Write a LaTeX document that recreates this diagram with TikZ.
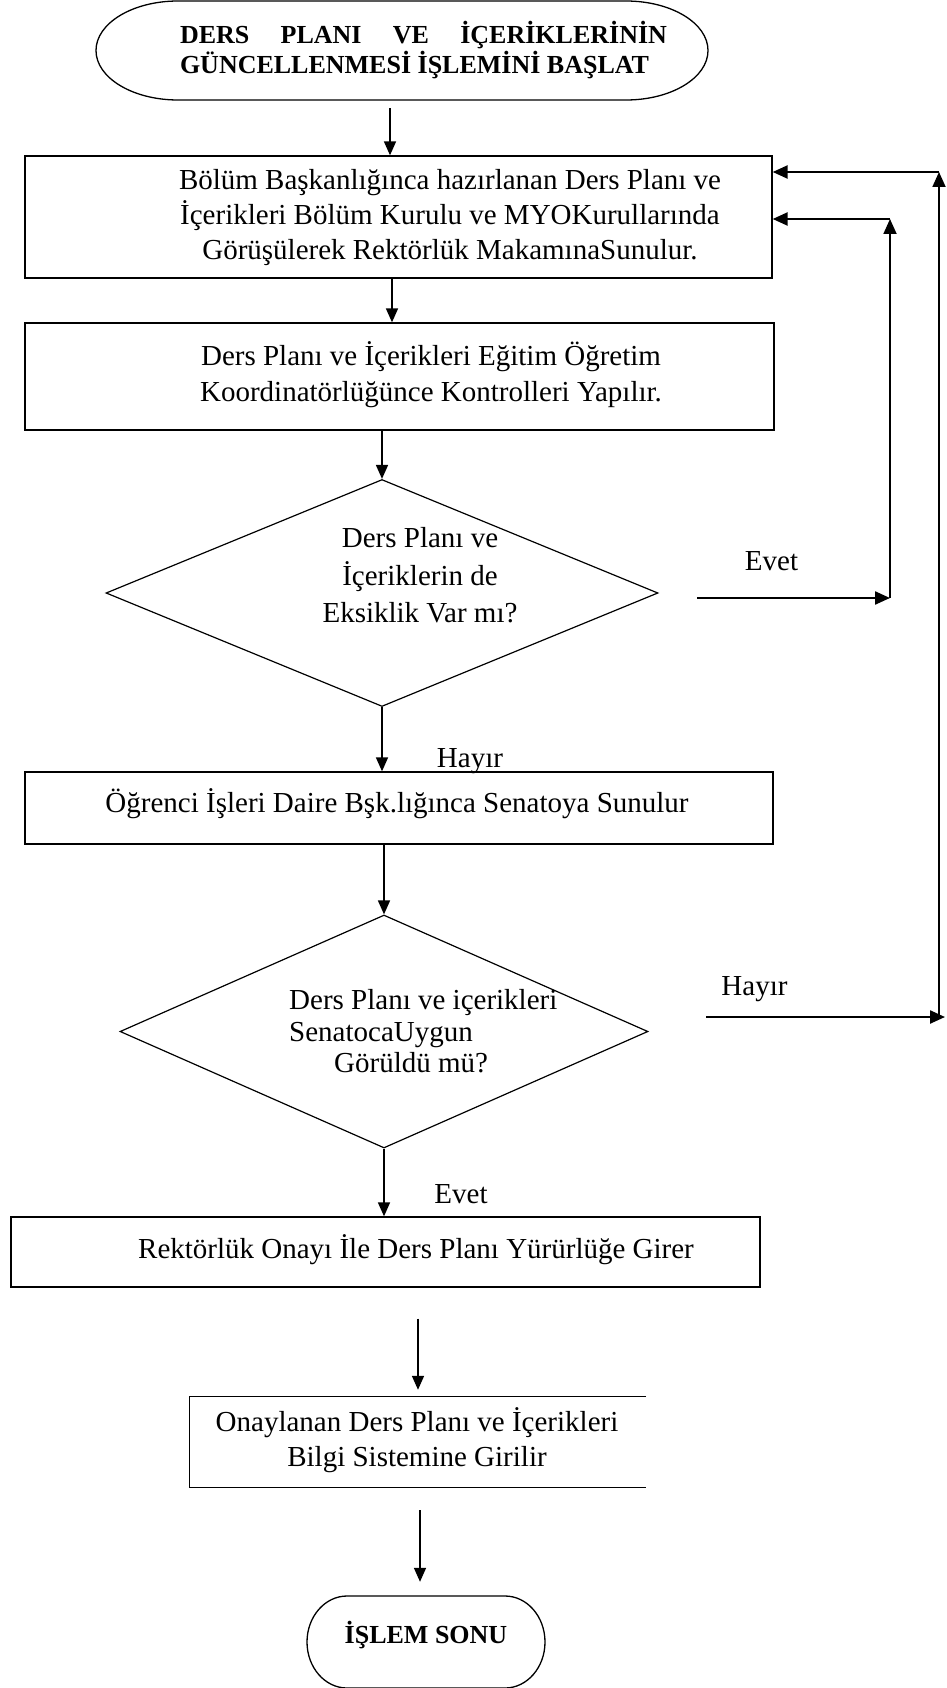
\documentclass[tikz,border=0pt]{standalone}
\usepackage{fontspec}
\setmainfont{Liberation Serif}
\usetikzlibrary{shapes.geometric,arrows.meta,calc}
\begin{document}
\begin{tikzpicture}[x=1pt,y=-1pt,
  boxst/.style={draw, line width=1.3pt, inner sep=0pt},
  hidden/.style={inner sep=0pt},
  dia/.style={draw, diamond, line width=1.2pt, inner sep=0pt},
  txt/.style={inner sep=0pt, align=center, font=\fontsize{29}{35}\selectfont},
  lbl/.style={inner sep=0pt, anchor=base, font=\fontsize{29}{35}\selectfont},
  ttl/.style={inner sep=0pt, align=left, font=\bfseries\fontsize{26}{30}\selectfont},
  arr/.style={-{Triangle[length=14pt,width=12pt]}, line width=1.6pt},
  farr/.style={-{Triangle[length=15pt,width=13pt]}, line width=2.3pt},
  varr/.style={-{Triangle[length=15pt,width=13pt]}, line width=1.8pt},
  term/.style={line width=1.3pt}
]
\path[use as bounding box] (0,0) rectangle (946,1688);
\fill[white] (0,0) rectangle (946,1688);
\clip (0,0) rectangle (946,1688);

% start terminal
\draw[term] (178,1) -- (626,1) arc[start angle=-90,end angle=90,x radius=82,y radius=49.5]
  -- (178,100) arc[start angle=90,end angle=270,x radius=82,y radius=49.5] -- cycle;
\node[hidden, minimum width=612pt, minimum height=99pt] (startbox) at (402,50.5) {};
\node[ttl] (start) at (423.5,50) {\makebox[487pt][s]{DERS PLANI VE İÇERİKLERİNİN}\\\makebox[487pt][l]{GÜNCELLENMESİ İŞLEMİNİ BAŞLAT}};

% boxes
\node[boxst, minimum width=747pt, minimum height=122pt] (b1) at (398.5,217) {};
\node[txt] (t1) at (450,217.5) {Bölüm Başkanlığınca hazırlanan Ders Planı ve\\İçerikleri Bölüm Kurulu ve MYOKurullarında\\Görüşülerek Rektörlük MakamınaSunulur.};

\node[boxst, minimum width=749pt, minimum height=107pt] (b2) at (399.5,376.5) {};
\node[txt, font=\fontsize{29}{36}\selectfont] (t2) at (431,375) {Ders Planı ve İçerikleri Eğitim Öğretim\\Koordinatörlüğünce Kontrolleri Yapılır.};

\node[dia, minimum width=552pt, minimum height=227pt] (d1) at (382,593) {};
\node[txt, font=\fontsize{29}{37.5}\selectfont] (td1) at (420,575.5) {Ders Planı ve\\İçeriklerin de\\Eksiklik Var mı?};

\node[boxst, minimum width=748pt, minimum height=72pt] (b3) at (399,808) {};
\node[lbl] (t3) at (397,812) {Öğrenci İşleri Daire Bşk.lığınca Senatoya Sunulur};

\node[dia, minimum width=528pt, minimum height=233pt] (d2) at (384,1031.5) {};
\node[txt, align=left, anchor=west, font=\fontsize{29}{31.5}\selectfont] (td2) at (289,1031.5) {Ders Planı ve içerikleri\\SenatocaUygun\\\hspace*{45pt}Görüldü mü?};

\node[boxst, minimum width=749pt, minimum height=70pt] (b4) at (385.5,1252) {};
\node[lbl] (t4) at (416,1258) {Rektörlük Onayı İle Ders Planı Yürürlüğe Girer};

\node[hidden, minimum width=456pt, minimum height=90pt] (b5) at (418,1442) {};
\draw[line width=1.3pt] (b5.north east) -- (b5.north west) -- (b5.south west) -- (b5.south east);
\node[txt] (t5) at (417,1440.5) {Onaylanan Ders Planı ve İçerikleri\\Bilgi Sistemine Girilir};

% end terminal
\draw[term] (347,1596) -- (505,1596) arc[start angle=-90,end angle=90,x radius=40,y radius=46]
  -- (347,1688) arc[start angle=90,end angle=270,x radius=40,y radius=46] -- cycle;
\node[hidden, minimum width=238pt, minimum height=92pt] (endbox) at (426,1642) {};
\node[lbl, font=\bfseries\fontsize{26}{30}\selectfont] (endt) at (426,1643) {İŞLEM SONU};

% labels
\node[lbl] (l1) at (470,767) {Hayır};
\node[lbl] (l2) at (771.5,570) {Evet};
\node[lbl] (l3) at (754.5,995) {Hayır};
\node[lbl] (l4) at (461,1203) {Evet};

% x positions of vertical connectors
\coordinate (ax1) at (390,0);
\coordinate (ax2) at (392,0);
\coordinate (ax3) at (382,0);
\coordinate (ax7) at (418,0);
\coordinate (ax8) at (420,0);

\draw[arr] ($(ax1 |- startbox.south)+(0,8)$) -- (ax1 |- b1.north);
\draw[arr] (ax2 |- b1.south) -- (ax2 |- b2.north);
\draw[arr] (ax3 |- b2.south) -- (d1.north);
\draw[arr] (d1.south) -- (d1.south |- b3.north);
\draw[arr] (d2.north |- b3.south) -- (d2.north);
\draw[arr] (d2.south) -- (d2.south |- b4.north);
\draw[arr] ($(ax7 |- b4.south)+(0,31)$) -- ($(ax7 |- b5.north)+(0,-7)$);
\draw[arr] ($(ax8 |- b5.south)+(0,23)$) -- ($(ax8 |- endbox.north)+(0,-14)$);

% feedback: Evet
\coordinate (e1s) at (697,598);
\coordinate (e1c) at (890,598);
\coordinate (e1t) at (890,219);
\draw[farr] (e1s) -- (e1c);
\draw[varr] (e1c) -- (e1t);
\draw[farr] (e1t) -- (b1.east |- e1t);

% feedback: Hayir
\coordinate (h2s) at (706,1017);
\coordinate (h2e) at (945,1017);
\coordinate (h2c) at (939,1017);
\coordinate (h2t) at (939,172);
\draw[farr] (h2s) -- (h2e);
\draw[varr] (h2c) -- (h2t);
\draw[farr] (h2t) -- (b1.east |- h2t);
\end{tikzpicture}
\end{document}
